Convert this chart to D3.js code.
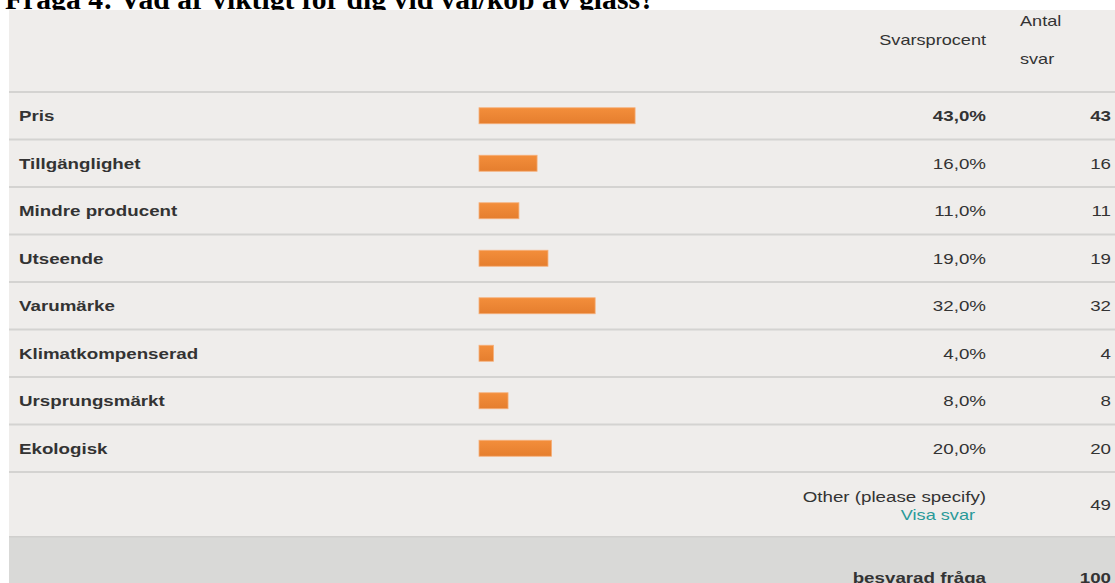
<!DOCTYPE html>
<html>
<head>
<meta charset="utf-8">
<script src="https://cdn.jsdelivr.net/npm/d3@7"></script>
<style>
  body { margin: 0; background: #fff; }
  svg text { font-family: "Liberation Sans", Arial, Helvetica, sans-serif; fill: #333; }
</style>
</head>
<body>
<svg id="chart"></svg>
<script>
// survey answers
const categories = ["Pris", "Tillgänglighet", "Mindre producent", "Utseende", "Varumärke", "Klimatkompenserad", "Ursprungsmärkt", "Ekologisk"];
const percents = [43, 16, 11, 19, 32, 4, 8, 20];
const counts = [43, 16, 11, 19, 32, 4, 8, 20];
const otherLabel = "Other (please specify)";
const otherCount = 49;
const answeredLabel = "besvarad fråga";
const answeredCount = 100;
const title = "Fråga 4: Vad är viktigt för dig vid val/köp av glass?";

const width = 1115, height = 583;
const left = 9, headTop = 10, headBottom = 92, rowsBottom = 472, otherBottom = 537;
const pctRight = 986, cntRight = 1111;
const sx = 1.25; // text in the screenshot is a bit stretched sideways

const rows = categories.map((c, i) => ({ cat: c, pct: percents[i], n: counts[i] }));

const svg = d3.select("#chart")
  .attr("width", width)
  .attr("height", height);

const y = d3.scaleBand()
  .domain(categories)
  .range([headBottom, rowsBottom])
  .paddingInner(0);

const x = d3.scaleLinear()
  .domain([0, 100])
  .range([479, 842]);

const defs = svg.append("defs");
const grad = defs.append("linearGradient")
  .attr("id", "barGrad")
  .attr("x1", 0).attr("y1", 0).attr("x2", 0).attr("y2", 1);
grad.append("stop").attr("offset", "0%").attr("stop-color", "#f38e3b");
grad.append("stop").attr("offset", "100%").attr("stop-color", "#e57e2e");

// helper for a stretched text
function addText(parent, tx, ty, txt, anchor, size, weight, color) {
  return parent.append("text")
    .attr("transform", `translate(${tx},${ty}) scale(${sx},1)`)
    .attr("dy", "0.35em")
    .attr("text-anchor", anchor)
    .style("font-size", size + "px")
    .style("font-weight", weight)
    .style("fill", color || "#333")
    .text(txt);
}

// title (partly hidden behind the table)
const t = svg.append("text")
  .attr("x", 5)
  .attr("y", 9)
  .style("font-family", "'Liberation Serif', 'Times New Roman', serif")
  .style("font-weight", "bold")
  .style("font-size", "24px")
  .style("fill", "#000")
  .text(title);
const tl = t.node().getComputedTextLength();
t.style("font-size", (24 * 650 / tl) + "px");

// backgrounds
svg.append("rect")
  .attr("x", left).attr("y", headTop)
  .attr("width", width - left).attr("height", otherBottom - headTop)
  .attr("fill", "#efedeb");

svg.append("rect")
  .attr("x", left).attr("y", otherBottom)
  .attr("width", width - left).attr("height", height - otherBottom)
  .attr("fill", "#d9d9d7");

// row separators
const lineYs = [headBottom].concat(categories.map(c => y(c) + y.bandwidth()));
svg.selectAll(".sep")
  .data(lineYs)
  .enter()
  .append("rect")
  .attr("class", "sep")
  .attr("x", left)
  .attr("y", d => d - 1)
  .attr("width", width - left)
  .attr("height", 2)
  .attr("fill", "#d4d3d1");

svg.append("rect")
  .attr("x", left).attr("y", otherBottom - 1)
  .attr("width", width - left).attr("height", 1.5)
  .attr("fill", "#d0cfcd");

// header
addText(svg, pctRight, 40, "Svarsprocent", "end", 14.5, "normal");
addText(svg, 1020, 21, "Antal", "start", 14.5, "normal");
addText(svg, 1020, 59, "svar", "start", 14.5, "normal");

// rows
const g = svg.selectAll(".row")
  .data(rows)
  .enter()
  .append("g")
  .attr("class", "row")
  .attr("transform", d => `translate(0,${y(d.cat) + y.bandwidth() / 2})`);

g.append("rect")
  .attr("x", x(0))
  .attr("y", -8)
  .attr("width", d => x(d.pct) - x(0))
  .attr("height", 16)
  .attr("fill", "url(#barGrad)")
  .attr("stroke", "#f6b07a")
  .attr("stroke-width", 0.8);

const maxPct = d3.max(percents);

g.each(function(d) {
  const row = d3.select(this);
  const w = d.pct === maxPct ? "bold" : "normal";
  addText(row, 19, 0, d.cat, "start", 15, "bold");
  addText(row, pctRight, 0, d3.format(".1f")(d.pct).replace(".", ",") + "%", "end", 15, w);
  addText(row, cntRight, 0, d.n, "end", 15, w);
});

// other row
addText(svg, pctRight, 497, otherLabel, "end", 15, "normal");
addText(svg, 975, 515, "Visa svar", "end", 14.5, "normal", "#2a9a99");
addText(svg, cntRight, 505, otherCount, "end", 15, "normal");

// footer
addText(svg, pctRight, 578, answeredLabel, "end", 15, "bold");
addText(svg, cntRight, 578, answeredCount, "end", 15, "bold");
</script>
</body>
</html>
